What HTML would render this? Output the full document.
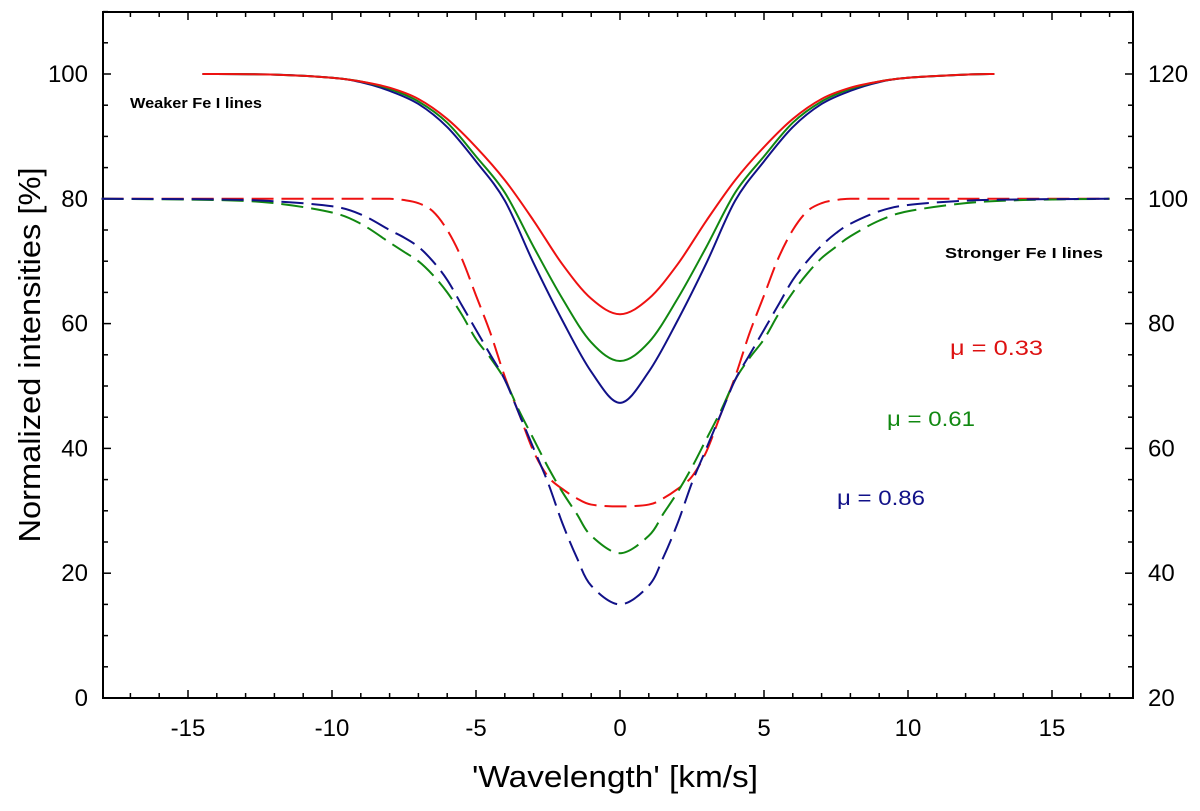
<!DOCTYPE html>
<html><head><meta charset="utf-8"><style>
body{margin:0;background:#fff;}
svg{display:block;font-family:"Liberation Sans",Arial,sans-serif;}
</style></head><body>
<svg id="chart" width="1200" height="811"></svg>
<script>
const solidX=[-14.5,-12,-10,-9,-8,-7,-6,-5,-4,-3,-2,-1,0,1,2,3,4,5,6,7,8,9,10,12,13];
const solidRed=[100,99.9,99.4,98.8,97.8,96,92.8,88.3,83,76.5,69.5,64,61.5,64,69.5,76.5,83,88.3,92.8,96,97.8,98.8,99.4,99.9,100];
const solidGreen=[100,99.9,99.4,98.8,97.6,95.6,92.2,86.8,81,72.3,64,57,54,57,64,72.3,81,86.8,92.2,95.6,97.6,98.8,99.4,99.9,100];
const solidBlue=[100,99.9,99.4,98.7,97.3,95.2,91.5,86,79.7,69.7,60.5,52.3,47.3,52.3,60.5,69.7,79.7,86,91.5,95.2,97.3,98.7,99.4,99.9,100];
const dashX=[-18,-14,-12,-10,-9,-8,-7.5,-7,-6.5,-6,-5.5,-5,-4.5,-4,-3.5,-3,-2.5,-2,-1.5,-1,0,1,1.5,2,2.5,3,3.5,4,4.5,5,5.5,6,6.5,7,7.5,8,9,10,12,14,17];
const dashRed=[80,80,80,80,80,80,79.8,79.3,78,75,70.5,64.5,58.5,51.5,45.5,39.5,35.5,33.5,32,31,30.7,31,32,33.5,35.5,39.5,45.5,51.5,58.5,64.5,70.5,75,78,79.3,79.8,80,80,80,80,80,80];
const dashGreen=[80,79.8,79.3,77.8,76,73,71.5,70,67.8,65,61.5,57.5,54.5,51,46,41.5,37,33,29.5,26,23.2,26,29.5,33,37,41.5,46,51,54.5,57.5,61.5,65,68,70.5,72.3,74,76.5,78,79.3,79.8,80];
const dashBlue=[80,79.9,79.6,78.8,77.5,75,73.8,72.3,70,67,63,59,55,51,45.5,40,34.5,28,22.5,18,15,18,22.5,28,34.5,40,45.5,51,55,59,63,67,70,72.5,74.5,76,78,79,79.7,79.9,80];
const xTicks=[-15,-10,-5,0,5,10,15];
const yTicks=[0,20,40,60,80,100];
const y2Ticks=[20,40,60,80,100,120];

const NS="http://www.w3.org/2000/svg";
const svg=document.getElementById('chart');
const L=103,R=1133,T=12,B=698;
const X=v=>620+v*28.8;
const Y=v=>698-v*6.24;
function el(tag,attrs,parent){const e=document.createElementNS(NS,tag);for(const k in attrs)e.setAttribute(k,attrs[k]);(parent||svg).appendChild(e);return e;}
function path(xs,ys){
  const p=xs.map((x,i)=>[X(x),Y(ys[i])]);
  let d=`M${p[0][0]},${p[0][1]}`;
  for(let i=0;i<p.length-1;i++){
    const p0=p[Math.max(i-1,0)],p1=p[i],p2=p[i+1],p3=p[Math.min(i+2,p.length-1)];
    const c1=[p1[0]+(p2[0]-p0[0])/6,p1[1]+(p2[1]-p0[1])/6];
    const c2=[p2[0]-(p3[0]-p1[0])/6,p2[1]-(p3[1]-p1[1])/6];
    d+=`C${c1[0]},${c1[1]} ${c2[0]},${c2[1]} ${p2[0]},${p2[1]}`;
  }
  return d;
}
const frame=el('rect',{x:L,y:T,width:R-L,height:B-T,fill:'none',stroke:'#000','stroke-width':2});


for(let v=-17;v<=17;v++){
  const t=el('line',{x1:X(v),x2:X(v),y1:B,y2:B-(v%5===0?8:5),stroke:'#000','stroke-width':1.5});
  
  
  const t2=el('line',{x1:X(v),x2:X(v),y1:T,y2:T+(v%5===0?8:5),stroke:'#000','stroke-width':1.5});
  
  
}
for(let v=0;v<=110;v+=5){
  const big=v%20===0;
  const t=el('line',{x1:L,x2:L+(big?8:5),y1:Y(v),y2:Y(v),stroke:'#000','stroke-width':1.5});
  
  
  const t2=el('line',{x1:R,x2:R-(big?8:5),y1:Y(v),y2:Y(v),stroke:'#000','stroke-width':1.5});
  
  
}
xTicks.forEach(v=>{
  const t=el('text',{x:X(v),y:736,'font-size':24,'text-anchor':'middle'});t.textContent=v;
  
  
});
yTicks.forEach(v=>{
  const t=el('text',{x:88,y:Y(v)+8,'font-size':24,'text-anchor':'end'});t.textContent=v;
  
  
});
y2Ticks.forEach(v=>{
  const t=el('text',{x:1148,y:Y(v-20)+8,'font-size':24,'text-anchor':'start'});t.textContent=v;
  
  
});
const series=[
  [dashX,dashRed,'#ee1111','22 8','dashed-red-line'],
  [dashX,dashGreen,'#118811','22 8','dashed-green-line'],
  [dashX,dashBlue,'#111188','22 8','dashed-blue-line'],
  [solidX,solidBlue,'#111188',null,'solid-blue-line'],
  [solidX,solidGreen,'#118811',null,'solid-green-line'],
  [solidX,solidRed,'#ee1111',null,'solid-red-line'],
];
series.forEach(s=>{
  const a={d:path(s[0],s[1]),fill:'none',stroke:s[2],'stroke-width':2};
  if(s[3])a['stroke-dasharray']=s[3];
  const p=el('path',a);
  
  
});
function txt(x,y,s,attrs,name){const t=el('text',Object.assign({x:x,y:y},attrs));t.textContent=s;
  
  return t;}
txt(130,108,'Weaker Fe I lines',{'font-size':15,'font-weight':'bold',textLength:132,lengthAdjust:'spacingAndGlyphs'},'weaker-lines-label');
txt(945,258,'Stronger Fe I lines',{'font-size':15,'font-weight':'bold',textLength:158,lengthAdjust:'spacingAndGlyphs'},'stronger-lines-label');
txt(950,355,'μ = 0.33',{'font-size':21,fill:'#dd1111',textLength:93,lengthAdjust:'spacingAndGlyphs'},'mu-033-label');
txt(887,426,'μ = 0.61',{'font-size':21,fill:'#118811',textLength:88,lengthAdjust:'spacingAndGlyphs'},'mu-061-label');
txt(837,505,'μ = 0.86',{'font-size':21,fill:'#111188',textLength:88,lengthAdjust:'spacingAndGlyphs'},'mu-086-label');
txt(472,787,"'Wavelength' [km/s]",{'font-size':31,textLength:286,lengthAdjust:'spacingAndGlyphs'},'x-axis-title');
txt(0,0,'Normalized intensities [%]',{'font-size':31,'text-anchor':'middle',textLength:375,lengthAdjust:'spacingAndGlyphs',transform:'translate(40,355) rotate(-90)'},'y-axis-title');
</script>
</body></html>
